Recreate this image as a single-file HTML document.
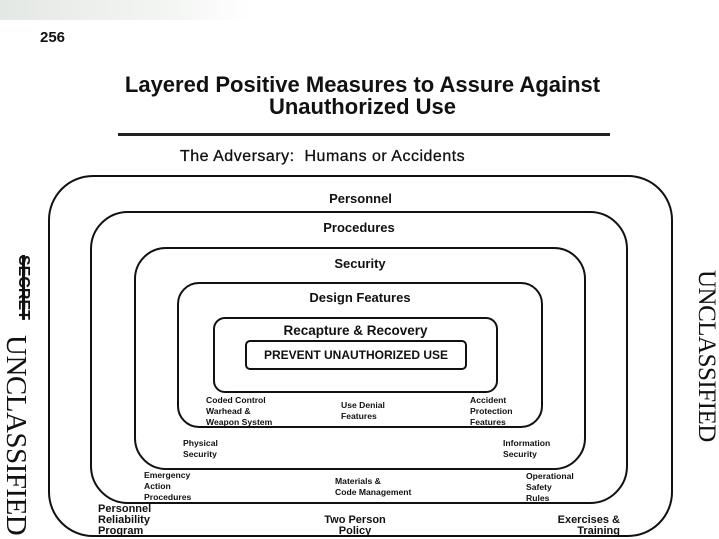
<!DOCTYPE html>
<html><head><meta charset="utf-8"><style>
body{margin:0;width:719px;height:539px;background:#fff;position:relative;overflow:hidden;font-family:"Liberation Sans",Arial,sans-serif;color:#111}
.a{position:absolute;white-space:nowrap}
.b{position:absolute;border:2px solid #111;box-sizing:border-box}
.c{text-align:center;font-weight:bold}
.s{font-weight:bold;font-size:8.6px;line-height:11px}
.m{font-weight:bold;font-size:11px;line-height:11px}
.v{position:absolute;transform-origin:0 0;transform:rotate(90deg);font-family:"Liberation Serif",serif;white-space:nowrap}
</style></head><body>
<div class="a" style="left:0;top:0;width:250px;height:20px;background:linear-gradient(90deg,#e4e8e4,#f4f6f4 70%,#fff)"></div>
<div class="a" style="left:40px;top:29px;font-weight:bold;font-size:15px">256</div>
<div class="a c" style="left:0;width:725px;top:74px;font-size:22px;line-height:22px">Layered Positive Measures to Assure Against<br>Unauthorized Use</div>
<div class="a" style="left:118px;top:133px;width:492px;height:3px;background:#222"></div>
<div class="a" style="left:180px;top:148px;font-size:16px;letter-spacing:0.5px;-webkit-text-stroke:0.3px #111">The Adversary:&nbsp; Humans or Accidents</div>

<div class="b" style="left:48px;top:175px;width:625px;height:362px;border-radius:45px"></div>
<div class="b" style="left:90px;top:211px;width:538px;height:293px;border-radius:38px"></div>
<div class="b" style="left:134px;top:247px;width:452px;height:223px;border-radius:32px"></div>
<div class="b" style="left:177px;top:282px;width:366px;height:146px;border-radius:22px"></div>
<div class="b" style="left:213px;top:317px;width:285px;height:76px;border-radius:12px"></div>
<div class="b" style="left:245px;top:340px;width:222px;height:30px;border-radius:5px"></div>

<div class="a c" style="left:48px;width:625px;top:191px;font-size:13px">Personnel</div>
<div class="a c" style="left:90px;width:538px;top:220px;font-size:13px">Procedures</div>
<div class="a c" style="left:134px;width:452px;top:256px;font-size:13px">Security</div>
<div class="a c" style="left:177px;width:366px;top:290px;font-size:13px">Design Features</div>
<div class="a c" style="left:213px;width:285px;top:323px;font-size:13.5px">Recapture &amp; Recovery</div>
<div class="a c" style="left:245px;width:222px;top:348px;font-size:12px">PREVENT UNAUTHORIZED USE</div>

<div class="a s" style="left:206px;top:395px">Coded Control<br>Warhead &amp;<br>Weapon System</div>
<div class="a s" style="left:341px;top:400px">Use Denial<br>Features</div>
<div class="a s" style="left:470px;top:395px">Accident<br>Protection<br>Features</div>
<div class="a s" style="left:183px;top:438px">Physical<br>Security</div>
<div class="a s" style="left:503px;top:438px">Information<br>Security</div>
<div class="a s" style="left:144px;top:470px">Emergency<br>Action<br>Procedures</div>
<div class="a s" style="left:335px;top:476px">Materials &amp;<br>Code Management</div>
<div class="a s" style="left:526px;top:471px">Operational<br>Safety<br>Rules</div>
<div class="a m" style="left:98px;top:504px">Personnel<br>Reliability<br>Program</div>
<div class="a m" style="left:305px;top:515px;text-align:center;width:100px">Two Person<br>Policy</div>
<div class="a m" style="left:530px;top:515px;text-align:right;width:90px">Exercises &amp;<br>Training</div>

<div class="v" style="left:32px;top:255px;font-size:16px;font-weight:bold;font-family:'Liberation Sans',sans-serif;text-decoration:line-through;text-decoration-thickness:3px">SECRET</div>
<div class="v" style="left:32px;top:335px;font-size:29px;letter-spacing:-0.5px">UNCLASSIFIED</div>
<div class="v" style="left:720px;top:270px;font-size:25px;letter-spacing:-0.5px">UNCLASSIFIED</div>
</body></html>
